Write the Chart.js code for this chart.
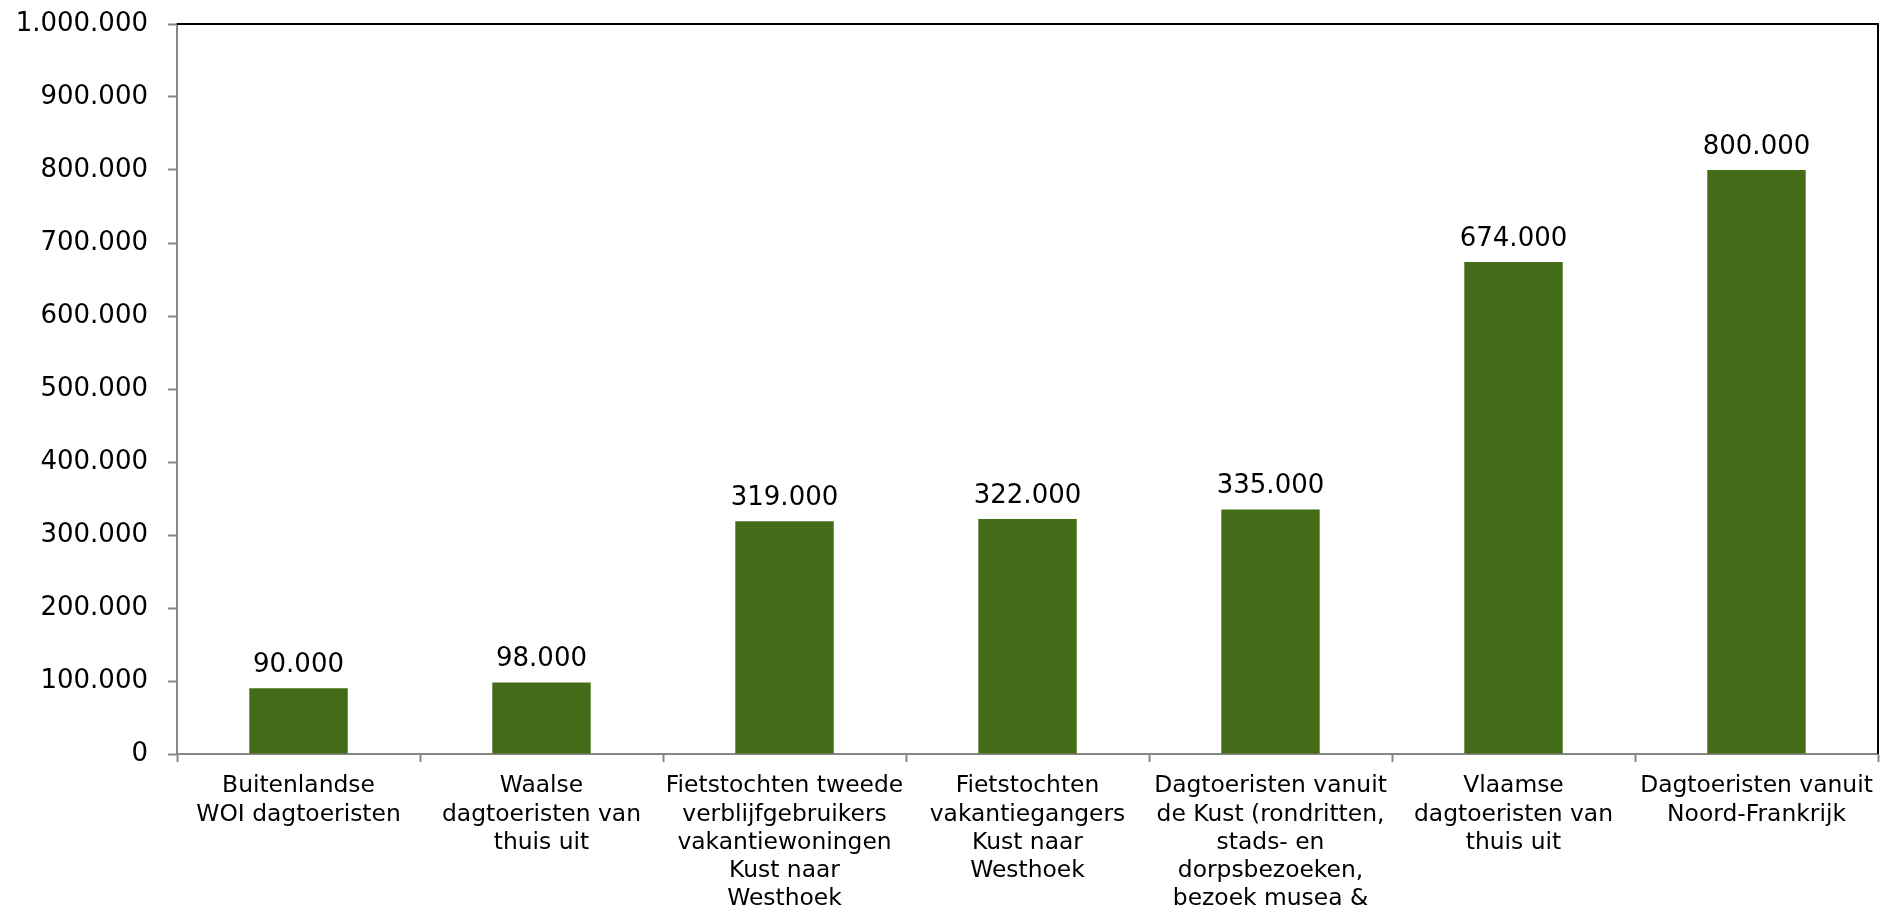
<!DOCTYPE html>
<html>
<head>
<meta charset="utf-8">
<script src="https://cdn.jsdelivr.net/npm/chart.js@4/dist/chart.umd.min.js"></script>
<style>
  html, body { margin: 0; padding: 0; background: #fff; }
  #wrap { width: 1883px; height: 913px; }
</style>
</head>
<body>
<div id="wrap"><canvas id="chart" width="1883" height="913"></canvas></div>
<script>
// Categories (one array of lines per bar) and values
const categories = [
  ['Buitenlandse', 'WOI dagtoeristen'],
  ['Waalse', 'dagtoeristen van', 'thuis uit'],
  ['Fietstochten tweede', 'verblijfgebruikers', 'vakantiewoningen', 'Kust naar', 'Westhoek'],
  ['Fietstochten', 'vakantiegangers', 'Kust naar', 'Westhoek'],
  ['Dagtoeristen vanuit', 'de Kust (rondritten,', 'stads- en', 'dorpsbezoeken,', 'bezoek musea &'],
  ['Vlaamse', 'dagtoeristen van', 'thuis uit'],
  ['Dagtoeristen vanuit', 'Noord-Frankrijk']
];
const visitors = [90000, 98000, 319000, 322000, 335000, 674000, 800000];
const yMin = 0;
const yMax = 1000000;
const yStep = 100000;

const FONT = "'DejaVu Sans', Verdana, sans-serif";
const AXIS_GREY = '#868686';

// Dutch style thousands separator: 1.000.000
function fmt(v) {
  return String(Math.round(v)).replace(/\B(?=(\d{3})+(?!\d))/g, '.');
}

// Value labels above each bar
const barValues = {
  id: 'barValues',
  afterDatasetsDraw(chart) {
    const ctx = chart.ctx;
    const meta = chart.getDatasetMeta(0);
    ctx.save();
    ctx.font = '26px ' + FONT;
    ctx.fillStyle = '#000';
    ctx.textAlign = 'center';
    ctx.textBaseline = 'alphabetic';
    meta.data.forEach((bar, i) => {
      ctx.fillText(fmt(chart.data.datasets[0].data[i]), bar.x, bar.y - 16);
    });
    ctx.restore();
  }
};

// Top and right border of the plot area
const plotFrame = {
  id: 'plotFrame',
  afterDraw(chart) {
    const { ctx, chartArea: a } = chart;
    ctx.save();
    ctx.strokeStyle = '#000';
    ctx.lineWidth = 2;
    ctx.beginPath();
    ctx.moveTo(a.left, a.top);
    ctx.lineTo(a.right, a.top);
    ctx.lineTo(a.right, a.bottom);
    ctx.stroke();
    ctx.restore();
  }
};

new Chart(document.getElementById('chart'), {
  type: 'bar',
  data: {
    labels: categories,
    datasets: [{
      data: visitors,
      backgroundColor: '#446B17',
      borderWidth: 0,
      barPercentage: 0.405,
      categoryPercentage: 1
    }]
  },
  options: {
    responsive: false,
    animation: false,
    layout: { padding: { top: 24, right: 5, left: 0, bottom: 0 } },
    plugins: {
      legend: { display: false },
      tooltip: { enabled: false }
    },
    scales: {
      x: {
        grid: {
          offset: true,
          drawOnChartArea: false,
          drawTicks: true,
          tickLength: 8,
          tickWidth: 2,
          tickColor: AXIS_GREY
        },
        border: { color: AXIS_GREY, width: 2 },
        ticks: {
          color: '#000',
          font: { family: FONT, size: 23.4, lineHeight: 1.21 },
          maxRotation: 0,
          autoSkip: false,
          padding: 10
        },
        afterFit(scale) {
          scale.height = 913 - 754;
          scale.paddingLeft = 0;
          scale.paddingRight = 0;
        }
      },
      y: {
        min: yMin,
        max: yMax,
        grid: {
          drawOnChartArea: false,
          drawTicks: true,
          tickLength: 9,
          tickWidth: 2,
          tickColor: AXIS_GREY
        },
        border: { color: AXIS_GREY, width: 2 },
        ticks: {
          stepSize: yStep,
          color: '#000',
          font: { family: FONT, size: 26 },
          padding: 20,
          callback: v => fmt(v)
        },
        afterFit(scale) {
          scale.width = 177;
          scale.paddingTop = 0;
          scale.paddingBottom = 0;
        }
      }
    }
  },
  plugins: [barValues, plotFrame]
});
</script>
</body>
</html>
